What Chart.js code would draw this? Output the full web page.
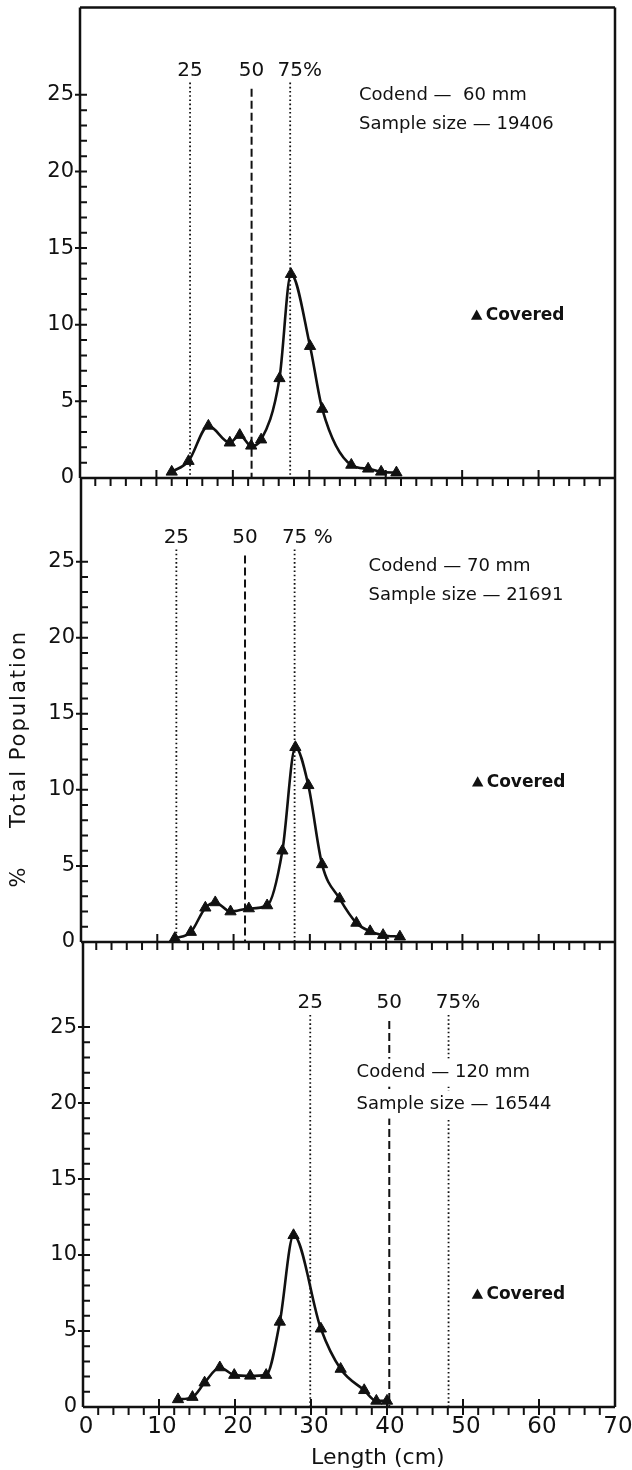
<!DOCTYPE html>
<html>
<head>
<meta charset="utf-8">
<script src="https://cdn.jsdelivr.net/npm/chart.js@4.4.1/dist/chart.umd.min.js"></script>
<style>
  html, body { margin: 0; padding: 0; background: #fff; }
  #page { position: relative; width: 632px; height: 1470px; overflow: hidden; background: #fff; }
  #page canvas { position: absolute; left: 0; }
</style>
</head>
<body>
<div id="page">
  <canvas id="panel-60"></canvas>
  <canvas id="panel-70"></canvas>
  <canvas id="panel-120"></canvas>
</div>
<script>
(function () {
  // length classes (cm) and % of total population, one pair per codend
  var LENGTH_60 = [12, 14.2, 16.8, 19.6, 20.9, 22.4, 23.7, 26.1, 27.6, 30.1, 31.7, 35.5, 37.7, 39.4, 41.4];
  var PCT_60 = [0.4, 1.1, 3.4, 2.3, 2.8, 2.1, 2.5, 6.5, 13.3, 8.6, 4.5, 0.85, 0.6, 0.4, 0.35];

  var LENGTH_70 = [12.3, 14.4, 16.3, 17.6, 19.6, 22.0, 24.4, 26.4, 28.1, 29.8, 31.6, 33.9, 36.1, 37.9, 39.6, 41.8];
  var PCT_70 = [0.25, 0.65, 2.25, 2.6, 2.0, 2.2, 2.4, 6.0, 12.8, 10.3, 5.1, 2.85, 1.25, 0.7, 0.45, 0.35];

  var LENGTH_120 = [12.5, 14.4, 16.0, 18.0, 19.9, 22.0, 24.1, 25.9, 27.7, 31.3, 33.9, 37.0, 38.6, 40.0];
  var PCT_120 = [0.5, 0.65, 1.6, 2.6, 2.1, 2.05, 2.1, 5.6, 11.3, 5.15, 2.5, 1.1, 0.4, 0.4];

  // 25 / 50 / 75 % retention lengths (cm)
  var PCTL_60 = [14.4, 22.45, 27.5];
  var PCTL_70 = [12.5, 21.5, 28.0];
  var PCTL_120 = [29.9, 40.3, 48.1];

  var Y_TICK_LABELS = [0, 5, 10, 15, 20, 25];
  var X_TICK_LABELS = [0, 10, 20, 30, 40, 50, 60, 70];

  var INK = '#111';
  var FONT = '"DejaVu Sans", sans-serif';

  var panels = [
    {
      id: 'panel-60', top: 0, height: 495,
      pad: { left: 80, right: 17, top: 5, bottom: 17 },
      yMax: 30.7, length: LENGTH_60, pct: PCT_60, pctl: PCTL_60,
      pctlLabels: ['25', '50', '75%'],
      lines: ['Codend \u2014  60 mm', 'Sample size \u2014 19406'],
      textAt: [36.5, 25.0, 23.05], legendAt: [51.9, 10.6],
      topBorder: true, xLabels: false, yTitle: false
    },
    {
      id: 'panel-70', top: 468, height: 495,
      pad: { left: 81, right: 17, top: 10, bottom: 21 },
      yMax: 30.5, length: LENGTH_70, pct: PCT_70, pctl: PCTL_70,
      pctlLabels: ['25', '50', '75 %'],
      lines: ['Codend \u2014 70 mm', 'Sample size \u2014 21691'],
      textAt: [37.7, 24.7, 22.8], legendAt: [52, 10.5],
      topBorder: false, xLabels: false, yTitle: true
    },
    {
      id: 'panel-120', top: 932, height: 538,
      pad: { left: 83, right: 17, top: 10, bottom: 63 },
      yMax: 30.6, length: LENGTH_120, pct: PCT_120, pctl: PCTL_120,
      pctlLabels: ['25', '50', '75%'],
      lines: ['Codend \u2014 120 mm', 'Sample size \u2014 16544'],
      textAt: [36.0, 22.0, 19.9], legendAt: [51.9, 7.4],
      topBorder: false, xLabels: true, yTitle: false
    }
  ];

  function drawTriangle(ctx, x, y, r) {
    ctx.beginPath();
    ctx.moveTo(x, y - r);
    ctx.lineTo(x + r * 0.95, y + r * 0.7);
    ctx.lineTo(x - r * 0.95, y + r * 0.7);
    ctx.closePath();
    ctx.fill();
  }

  function rotatedText(ctx, text, x, y) {
    ctx.save();
    ctx.translate(x, y);
    ctx.rotate(-Math.PI / 2);
    ctx.textAlign = 'center';
    ctx.textBaseline = 'middle';
    ctx.fillText(text, 0, 0);
    ctx.restore();
  }

  var panelDecor = {
    id: 'panelDecor',
    beforeDatasetsDraw: function (chart, args, opts) {
      var ctx = chart.ctx;
      var xs = chart.scales.x;
      var ys = chart.scales.y;
      var area = chart.chartArea;
      ctx.save();
      ctx.strokeStyle = INK;
      ctx.fillStyle = INK;

      // percentile markers: dotted 25 and 75, dashed 50
      opts.pctl.forEach(function (v, i) {
        var px = xs.getPixelForValue(v);
        ctx.beginPath();
        if (i === 1) {
          ctx.setLineDash([8, 4]);
          ctx.lineWidth = 2;
          ctx.moveTo(px, ys.getPixelForValue(25.4));
        } else {
          ctx.setLineDash([1.6, 2.6]);
          ctx.lineWidth = 1.8;
          ctx.moveTo(px, ys.getPixelForValue(25.8));
        }
        ctx.lineTo(px, area.bottom);
        ctx.stroke();
      });
      ctx.setLineDash([]);

      ctx.font = '20px ' + FONT;
      ctx.textBaseline = 'middle';
      ctx.textAlign = 'left';
      var labelY = ys.getPixelForValue(26.6);
      opts.pctl.forEach(function (v, i) {
        var px = xs.getPixelForValue(v);
        var label = opts.pctlLabels[i];
        var w = ctx.measureText(label.slice(0, 2)).width;
        ctx.fillText(label, px - w / 2, labelY);
      });
      ctx.restore();
    },
    afterDatasetsDraw: function (chart, args, opts) {
      var ctx = chart.ctx;
      var xs = chart.scales.x;
      var ys = chart.scales.y;
      var area = chart.chartArea;
      ctx.save();
      ctx.strokeStyle = INK;
      ctx.fillStyle = INK;
      ctx.lineCap = 'butt';

      // codend / sample size text, on white so the markers break around it
      ctx.font = '18px ' + FONT;
      ctx.textBaseline = 'middle';
      ctx.textAlign = 'left';
      var tx = xs.getPixelForValue(opts.textAt[0]);
      opts.lines.forEach(function (line, i) {
        var ty = ys.getPixelForValue(opts.textAt[i + 1]);
        var w = ctx.measureText(line).width;
        ctx.fillStyle = '#fff';
        ctx.fillRect(tx - 4, ty - 14, w + 8, 28);
        ctx.fillStyle = INK;
        ctx.fillText(line, tx, ty);
      });

      // legend
      var lx = xs.getPixelForValue(opts.legendAt[0]);
      var ly = ys.getPixelForValue(opts.legendAt[1]);
      drawTriangle(ctx, lx, ly, 6);
      ctx.font = 'bold 17px ' + FONT;
      ctx.fillText('Covered', lx + 9, ly);

      // frame
      ctx.lineWidth = 2.5;
      ctx.beginPath();
      ctx.moveTo(area.left, area.top);
      ctx.lineTo(area.left, area.bottom);
      ctx.moveTo(area.right, area.top);
      ctx.lineTo(area.right, area.bottom);
      ctx.moveTo(area.left, area.bottom);
      ctx.lineTo(area.right, area.bottom);
      if (opts.topBorder) {
        ctx.moveTo(area.left, area.top);
        ctx.lineTo(area.right, area.top);
      }
      ctx.stroke();

      // y ticks: every 1 % inside, majors poke out left
      ctx.lineWidth = 2;
      ctx.beginPath();
      for (var v = 1; v <= 25; v++) {
        var py = ys.getPixelForValue(v);
        ctx.moveTo(area.left, py);
        ctx.lineTo(area.left + 7, py);
        if (v % 5 === 0) {
          ctx.moveTo(area.left - 5, py);
          ctx.lineTo(area.left, py);
        }
      }
      // x ticks: every 2 cm below the axis, majors cross it
      for (var c = 2; c < 70; c += 2) {
        var px = xs.getPixelForValue(c);
        ctx.moveTo(px, area.bottom);
        ctx.lineTo(px, area.bottom + 8);
        if (c % 10 === 0) {
          ctx.moveTo(px, area.bottom - 8);
          ctx.lineTo(px, area.bottom);
        }
      }
      ctx.stroke();

      // y tick labels
      ctx.font = '21px ' + FONT;
      ctx.textAlign = 'right';
      ctx.textBaseline = 'middle';
      Y_TICK_LABELS.forEach(function (t) {
        ctx.fillText(String(t), area.left - 6, ys.getPixelForValue(t));
      });

      if (opts.xLabels) {
        ctx.font = '23px ' + FONT;
        ctx.textAlign = 'center';
        ctx.textBaseline = 'top';
        X_TICK_LABELS.forEach(function (t) {
          ctx.fillText(String(t), xs.getPixelForValue(t) + 3, area.bottom + 9);
        });
        ctx.font = '22px ' + FONT;
        ctx.fillText('Length (cm)', xs.getPixelForValue(38.8), area.bottom + 40);
      }

      if (opts.yTitle) {
        ctx.font = '21px ' + FONT;
        ctx.letterSpacing = '2px';
        rotatedText(ctx, 'Total Population', 20, ys.getPixelForValue(14.0));
        rotatedText(ctx, '%', 20, ys.getPixelForValue(4.3));
        ctx.letterSpacing = '0px';
      }
      ctx.restore();
    }
  };

  panels.forEach(function (p) {
    var canvas = document.getElementById(p.id);
    canvas.width = 632;
    canvas.height = p.height;
    canvas.style.top = p.top + 'px';
    canvas.style.width = '632px';
    canvas.style.height = p.height + 'px';

    var points = p.length.map(function (x, i) {
      return { x: x, y: p.pct[i] };
    });

    new Chart(canvas, {
      type: 'line',
      data: {
        datasets: [{
          label: 'Covered',
          data: points,
          borderColor: INK,
          backgroundColor: INK,
          borderWidth: 2.6,
          pointStyle: 'triangle',
          pointRadius: 6.5,
          pointBorderWidth: 1,
          pointBackgroundColor: INK,
          pointBorderColor: INK,
          cubicInterpolationMode: 'monotone',
          fill: false
        }]
      },
      options: {
        responsive: false,
        animation: false,
        devicePixelRatio: 1,
        layout: { padding: p.pad },
        scales: {
          x: { type: 'linear', min: 0, max: 70, display: false },
          y: { type: 'linear', min: 0, max: p.yMax, display: false }
        },
        plugins: {
          legend: { display: false },
          tooltip: { enabled: false },
          panelDecor: p
        }
      },
      plugins: [panelDecor]
    });
  });
})();
</script>
</body>
</html>
